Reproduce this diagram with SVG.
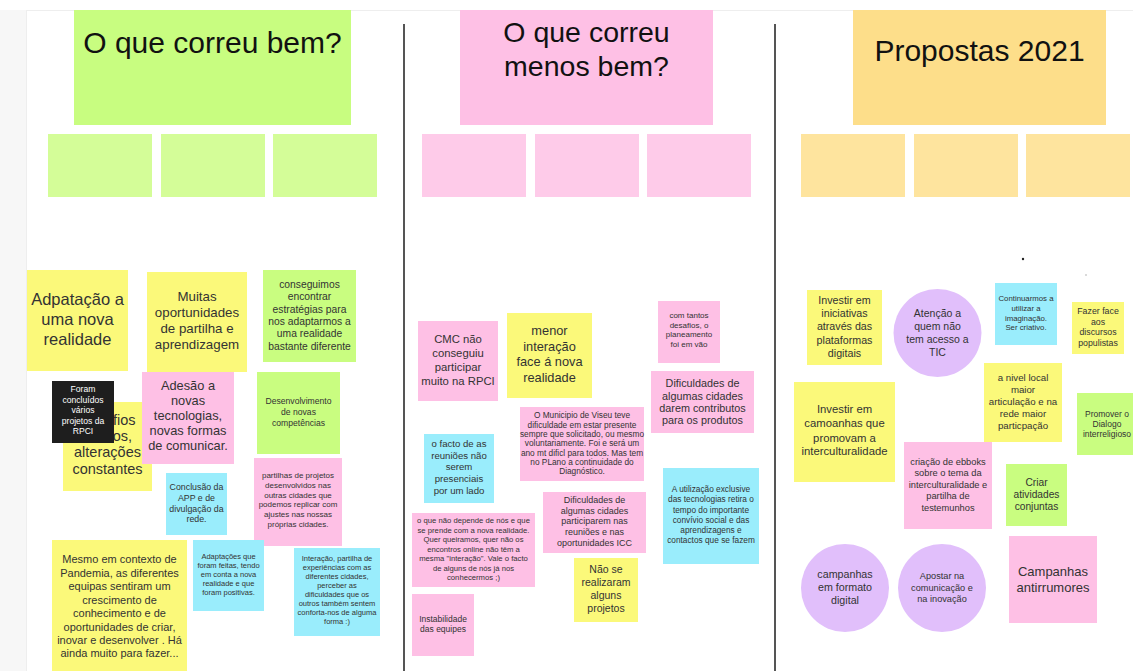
<svg xmlns="http://www.w3.org/2000/svg" width="1133" height="671" viewBox="0 0 1133 671">
<style>
text{font-family:"Liberation Sans",Arial,sans-serif;fill:#333;text-anchor:middle}
.h{fill:#111}
.w{fill:#fff}
.e{text-anchor:end}
.hg{fill:#c8fd80}.hp{fill:#fec0e5}.ho{fill:#fdde8a}
.sg{fill:#d4fd98}.sp{fill:#fecbe9}.so{fill:#fee49e}
.y{fill:#fbf97a}.g{fill:#c9fd80}.p{fill:#fec0e5}.c{fill:#9aedfc}.v{fill:#e1bffb}.k{fill:#1e1e1e}
.div{stroke:#555;stroke-width:2}
</style>
<rect x="0" y="0" width="1133" height="671" fill="#fff"/>
<rect x="0" y="10" width="26" height="661" fill="#f7f7f7"/>
<line x1="26" y1="10.5" x2="1133" y2="10.5" stroke="#eeeeee"/>
<line x1="26.5" y1="10" x2="26.5" y2="671" stroke="#eeeeee"/>

<g id="dividers">
<line class="div" x1="404" y1="24" x2="404" y2="671"/>
<line class="div" x1="775" y1="24" x2="775" y2="671"/>
</g>

<g id="header-bem">
<rect class="hg" x="74" y="10" width="277" height="115"/>
<text class="h" x="212.5" y="53" font-size="30">O que correu bem?</text>
</g>
<g id="header-menos">
<rect class="hp" x="460" y="10" width="253" height="115"/>
<text class="h" x="586.5" y="42" font-size="28.5">O que correu</text>
<text class="h" x="586.5" y="76" font-size="28.5">menos bem?</text>
</g>
<g id="header-propostas">
<rect class="ho" x="853" y="10" width="253" height="115"/>
<text class="h" x="979.5" y="61" font-size="30">Propostas 2021</text>
</g>

<g id="slots">
<rect class="sg" x="48" y="134" width="104" height="63"/>
<rect class="sg" x="161" y="134" width="104" height="63"/>
<rect class="sg" x="273" y="134" width="104" height="63"/>
<rect class="sp" x="422" y="134" width="104" height="63"/>
<rect class="sp" x="535" y="134" width="104" height="63"/>
<rect class="sp" x="647" y="134" width="104" height="63"/>
<rect class="so" x="801" y="134" width="104" height="63"/>
<rect class="so" x="914" y="134" width="104" height="63"/>
<rect class="so" x="1026" y="134" width="104" height="63"/>
</g>

<g id="n-adaptacao">
<rect class="y" x="27" y="270" width="101" height="101"/>
<text font-size="16.5"><tspan x="77.5" y="305">Adpatação a</tspan><tspan x="77.5" y="325">uma nova</tspan><tspan x="77.5" y="345">realidade</tspan></text>
</g>
<g id="n-muitas">
<rect class="y" x="147" y="272" width="100" height="100"/>
<text font-size="13.3"><tspan x="197" y="301">Muitas</tspan><tspan x="197" y="317">oportunidades</tspan><tspan x="197" y="333">de partilha e</tspan><tspan x="197" y="349">aprendizagem</tspan></text>
</g>
<g id="n-conseguimos">
<rect class="g" x="263" y="270" width="93" height="92"/>
<text font-size="10.3"><tspan x="309.5" y="288">conseguimos</tspan><tspan x="309.5" y="300">encontrar</tspan><tspan x="309.5" y="312.5">estratégias para</tspan><tspan x="309.5" y="325">nos adaptarmos a</tspan><tspan x="309.5" y="337">uma realidade</tspan><tspan x="309.5" y="349.5">bastante diferente</tspan></text>
</g>
<g id="n-desafios">
<rect class="y" x="63" y="402" width="89" height="89"/>
<text class="e" x="135.5" y="425" font-size="14.5">fios</text>
<text class="e" x="132" y="441" font-size="14.5">os,</text>
<text font-size="14.5"><tspan x="107.5" y="457">alterações</tspan><tspan x="107.5" y="474">constantes</tspan></text>
</g>
<g id="n-foram">
<rect class="k" x="52" y="381" width="62" height="62"/>
<text class="w" font-size="8.6"><tspan x="83" y="392">Foram</tspan><tspan x="83" y="402.5">concluídos</tspan><tspan x="83" y="413">vários</tspan><tspan x="83" y="423.5">projetos da</tspan><tspan x="83" y="434">RPCI</tspan></text>
</g>
<g id="n-adesao">
<rect class="p" x="142" y="372" width="92" height="92"/>
<text font-size="12.8"><tspan x="188" y="390">Adesão a</tspan><tspan x="188" y="405">novas</tspan><tspan x="188" y="420">tecnologias,</tspan><tspan x="188" y="435">novas formas</tspan><tspan x="188" y="450">de comunicar.</tspan></text>
</g>
<g id="n-desenvolvimento">
<rect class="g" x="257" y="372" width="83" height="82"/>
<text font-size="8.6"><tspan x="298.5" y="404">Desenvolvimento</tspan><tspan x="298.5" y="415">de novas</tspan><tspan x="298.5" y="426">competências</tspan></text>
</g>
<g id="n-partilhas">
<rect class="p" x="254" y="458" width="88" height="88"/>
<text font-size="8"><tspan x="298" y="478">partilhas de projetos</tspan><tspan x="298" y="488">desenvolvidos nas</tspan><tspan x="298" y="497.5">outras cidades que</tspan><tspan x="298" y="507">podemos replicar com</tspan><tspan x="298" y="517">ajustes nas nossas</tspan><tspan x="298" y="527">próprias cidades.</tspan></text>
</g>
<g id="n-conclusao">
<rect class="c" x="166" y="473" width="61" height="62"/>
<text font-size="8.8"><tspan x="196.5" y="490">Conclusão da</tspan><tspan x="196.5" y="501">APP e de</tspan><tspan x="196.5" y="512">divulgação da</tspan><tspan x="196.5" y="522">rede.</tspan></text>
</g>
<g id="n-mesmo">
<rect class="y" x="52" y="540" width="135" height="131"/>
<text font-size="11"><tspan x="119.5" y="563">Mesmo em contexto de</tspan><tspan x="119.5" y="576.5">Pandemia, as diferentes</tspan><tspan x="119.5" y="590">equipas sentiram um</tspan><tspan x="119.5" y="603.5">crescimento de</tspan><tspan x="119.5" y="617">conhecimento e de</tspan><tspan x="119.5" y="630.5">oportunidades de criar,</tspan><tspan x="119.5" y="644">inovar e desenvolver . Há</tspan><tspan x="119.5" y="657">ainda muito para fazer...</tspan></text>
</g>
<g id="n-adaptacoes">
<rect class="c" x="193" y="540" width="71" height="71"/>
<text font-size="7.5"><tspan x="228.5" y="559">Adaptações que</tspan><tspan x="228.5" y="568">foram feitas, tendo</tspan><tspan x="228.5" y="577">em conta a nova</tspan><tspan x="228.5" y="586">realidade e que</tspan><tspan x="228.5" y="595">foram positivas.</tspan></text>
</g>
<g id="n-interacao">
<rect class="c" x="294" y="548" width="86" height="88"/>
<text font-size="7.5"><tspan x="337" y="561">Interação, partilha de</tspan><tspan x="337" y="570">experiências com as</tspan><tspan x="337" y="579">diferentes cidades,</tspan><tspan x="337" y="588">perceber as</tspan><tspan x="337" y="597">dificuldades que os</tspan><tspan x="337" y="606">outros também sentem</tspan><tspan x="337" y="615">conforta-nos de alguma</tspan><tspan x="337" y="624">forma :)</tspan></text>
</g>

<g id="n-cmc">
<rect class="p" x="418" y="321" width="80" height="80"/>
<text font-size="11.3"><tspan x="458" y="343">CMC não</tspan><tspan x="458" y="357">conseguiu</tspan><tspan x="458" y="371">participar</tspan><tspan x="458" y="385">muito na RPCI</tspan></text>
</g>
<g id="n-menor">
<rect class="y" x="507" y="313" width="85" height="85"/>
<text font-size="12.8"><tspan x="549.5" y="335">menor</tspan><tspan x="549.5" y="350.5">interação</tspan><tspan x="549.5" y="366">face á nova</tspan><tspan x="549.5" y="381.5">realidade</tspan></text>
</g>
<g id="n-tantos">
<rect class="p" x="658" y="301" width="62" height="62"/>
<text font-size="8"><tspan x="689" y="318">com tantos</tspan><tspan x="689" y="327.5">desafios, o</tspan><tspan x="689" y="337">planeamento</tspan><tspan x="689" y="347">foi em vão</tspan></text>
</g>
<g id="n-dificuldades-darem">
<rect class="p" x="651" y="371" width="103" height="62"/>
<text font-size="10.8"><tspan x="702.5" y="387">Dificuldades de</tspan><tspan x="702.5" y="399.5">algumas cidades</tspan><tspan x="702.5" y="411.5">darem contributos</tspan><tspan x="702.5" y="423.5">para os produtos</tspan></text>
</g>
<g id="n-viseu">
<rect class="p" x="520" y="407" width="124" height="74"/>
<text font-size="8.3"><tspan x="582" y="418">O Municipio de Viseu teve</tspan><tspan x="582" y="427.5">dificuldade em estar presente</tspan><tspan x="582" y="436.5">sempre que solicitado, ou mesmo</tspan><tspan x="582" y="446">voluntariamente. Foi e será um</tspan><tspan x="582" y="455.5">ano mt dificl para todos. Mas tem</tspan><tspan x="582" y="465">no PLano a continuidade do</tspan><tspan x="582" y="474">Diagnóstico.</tspan></text>
</g>
<g id="n-facto">
<rect class="c" x="424" y="434" width="70" height="69"/>
<text font-size="9.6"><tspan x="459" y="447">o facto de as</tspan><tspan x="459" y="458.5">reuniões não</tspan><tspan x="459" y="470">serem</tspan><tspan x="459" y="482">presenciais</tspan><tspan x="459" y="494">por um lado</tspan></text>
</g>
<g id="n-dificuldades-participarem">
<rect class="p" x="543" y="492" width="103" height="61"/>
<text font-size="9"><tspan x="594.5" y="503">Dificuldades de</tspan><tspan x="594.5" y="513.5">algumas cidades</tspan><tspan x="594.5" y="524">participarem nas</tspan><tspan x="594.5" y="534.5">reuniões e nas</tspan><tspan x="594.5" y="545.5">oportunidades ICC</tspan></text>
</g>
<g id="n-utilizacao">
<rect class="c" x="663" y="468" width="96" height="96"/>
<text font-size="8.3"><tspan x="711" y="492">A utilização exclusive</tspan><tspan x="711" y="502">das tecnologias retira o</tspan><tspan x="711" y="513">tempo do importante</tspan><tspan x="711" y="523">convívio social e das</tspan><tspan x="711" y="533">aprendizagens e</tspan><tspan x="711" y="543">contactos que se fazem</tspan></text>
</g>
<g id="n-depende">
<rect class="p" x="412" y="513" width="123" height="74"/>
<text font-size="7.7"><tspan x="473.5" y="523">o que não depende de nós e que</tspan><tspan x="473.5" y="533">se prende com a nova realidade.</tspan><tspan x="473.5" y="542">Quer queiramos, quer não os</tspan><tspan x="473.5" y="552">encontros online não têm a</tspan><tspan x="473.5" y="561">mesma "interação". Vale o facto</tspan><tspan x="473.5" y="571">de alguns de nós já nos</tspan><tspan x="473.5" y="580">conhecermos ;)</tspan></text>
</g>
<g id="n-realizaram">
<rect class="y" x="574" y="558" width="64" height="64"/>
<text font-size="10.5"><tspan x="606" y="573">Não se</tspan><tspan x="606" y="586">realizaram</tspan><tspan x="606" y="599">alguns</tspan><tspan x="606" y="612">projetos</tspan></text>
</g>
<g id="n-instabilidade">
<rect class="p" x="412" y="594" width="62" height="62"/>
<text font-size="8.5"><tspan x="443" y="622">Instabilidade</tspan><tspan x="443" y="632">das equipes</tspan></text>
</g>

<g id="marks">
<circle cx="1023" cy="259" r="1.2" fill="#222"/>
<circle cx="1086" cy="275" r="0.7" fill="#999"/>
</g>
<g id="n-iniciativas">
<rect class="y" x="807" y="290" width="75" height="75"/>
<text font-size="10.7"><tspan x="844.5" y="304">Investir em</tspan><tspan x="844.5" y="317">iniciativas</tspan><tspan x="844.5" y="330">através das</tspan><tspan x="844.5" y="343.5">plataformas</tspan><tspan x="844.5" y="357">digitais</tspan></text>
</g>
<g id="n-atencao">
<circle class="v" cx="937.5" cy="333" r="44"/>
<text font-size="10.5"><tspan x="937.5" y="317">Atenção a</tspan><tspan x="937.5" y="330">quem não</tspan><tspan x="937.5" y="343">tem acesso a</tspan><tspan x="937.5" y="356">TIC</tspan></text>
</g>
<g id="n-continuarmos">
<rect class="c" x="995" y="283" width="62" height="62"/>
<text font-size="7.8"><tspan x="1026" y="301">Continuarmos a</tspan><tspan x="1026" y="311">utilizar a</tspan><tspan x="1026" y="321">imaginação.</tspan><tspan x="1026" y="330">Ser criativo.</tspan></text>
</g>
<g id="n-fazer-face">
<rect class="y" x="1072" y="302" width="52" height="52"/>
<text font-size="8.8"><tspan x="1098" y="314">Fazer face</tspan><tspan x="1098" y="324.5">aos</tspan><tspan x="1098" y="335">discursos</tspan><tspan x="1098" y="345.5">populistas</tspan></text>
</g>
<g id="n-nivel-local">
<rect class="y" x="984" y="363" width="78" height="79"/>
<text font-size="9.7"><tspan x="1023" y="381">a nivel local</tspan><tspan x="1023" y="393">maior</tspan><tspan x="1023" y="405">articulação e na</tspan><tspan x="1023" y="417">rede maior</tspan><tspan x="1023" y="429">particpação</tspan></text>
</g>
<g id="n-dialogo">
<rect class="g" x="1077" y="393" width="60" height="62"/>
<text font-size="8.5"><tspan x="1107" y="417">Promover o</tspan><tspan x="1107" y="427">Dialogo</tspan><tspan x="1107" y="437">interreligioso</tspan></text>
</g>
<g id="n-camoanhas">
<rect class="y" x="794" y="382" width="101" height="100"/>
<text font-size="11.3"><tspan x="844.5" y="413">Investir em</tspan><tspan x="844.5" y="427">camoanhas que</tspan><tspan x="844.5" y="441.5">promovam a</tspan><tspan x="844.5" y="455">interculturalidade</tspan></text>
</g>
<g id="n-ebboks">
<rect class="p" x="904" y="442" width="88" height="87"/>
<text font-size="9.3"><tspan x="948" y="465">criação de ebboks</tspan><tspan x="948" y="476">sobre o tema da</tspan><tspan x="948" y="487.5">interculturalidade e</tspan><tspan x="948" y="499">partilha de</tspan><tspan x="948" y="511">testemunhos</tspan></text>
</g>
<g id="n-criar">
<rect class="g" x="1006" y="464" width="61" height="62"/>
<text font-size="10.2"><tspan x="1036.5" y="486">Criar</tspan><tspan x="1036.5" y="497.5">atividades</tspan><tspan x="1036.5" y="510">conjuntas</tspan></text>
</g>
<g id="n-formato-digital">
<circle class="v" cx="845" cy="588" r="44"/>
<text font-size="10.7"><tspan x="845" y="578">campanhas</tspan><tspan x="845" y="591">em formato</tspan><tspan x="845" y="604">digital</tspan></text>
</g>
<g id="n-apostar">
<circle class="v" cx="942" cy="588" r="44"/>
<text font-size="9.2"><tspan x="942" y="579">Apostar na</tspan><tspan x="942" y="590.5">comunicação e</tspan><tspan x="942" y="602">na inovação</tspan></text>
</g>
<g id="n-antirrumores">
<rect class="p" x="1009" y="536" width="88" height="87"/>
<text font-size="13"><tspan x="1053" y="576">Campanhas</tspan><tspan x="1053" y="592">antirrumores</tspan></text>
</g>
</svg>
